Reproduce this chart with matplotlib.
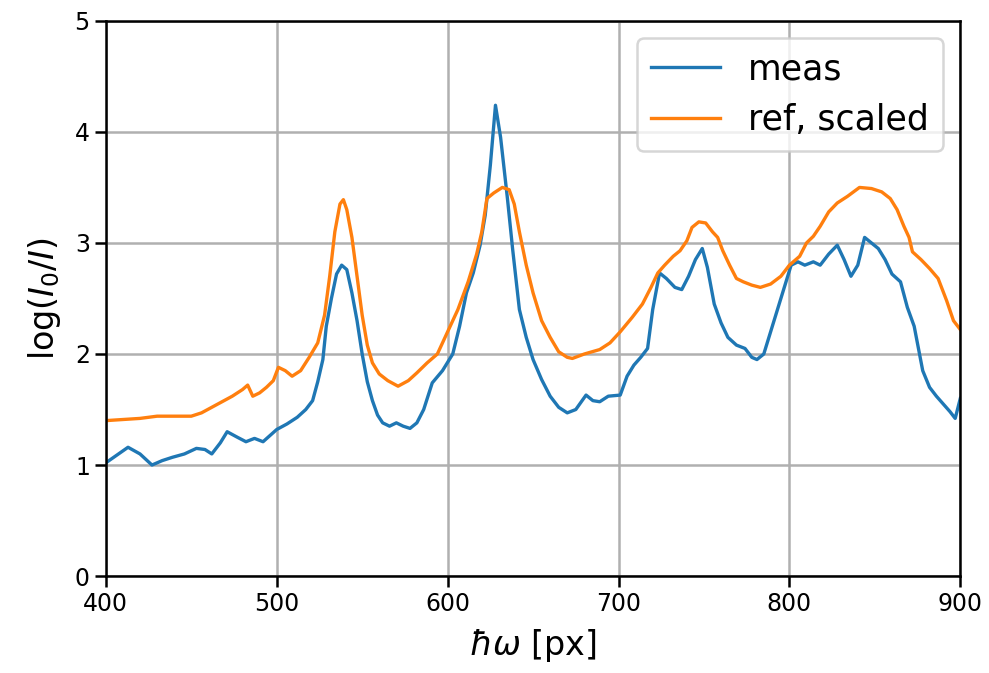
import matplotlib
matplotlib.use("Agg")
import matplotlib.pyplot as plt

meas_x = [400, 413, 420, 427, 433, 439, 446, 453, 458, 462, 467, 471, 477, 482, 487, 492, 500, 506,
          512, 517, 521, 524, 527, 529, 532, 535, 538, 541, 544, 547, 550, 553, 556, 559, 562, 566,
          570, 574, 578, 582, 586, 591, 597, 603, 607, 611, 615, 619, 622, 625, 628, 631, 635, 638,
          642, 646, 650, 655, 660, 665, 670, 675, 681, 685, 689, 694, 701, 705, 709, 713, 717, 720,
          724, 728, 733, 737, 741, 745, 749, 752, 756, 760, 764, 769, 774, 778, 781, 785, 789, 793,
          797, 801, 805, 809, 814, 818, 823, 828, 832, 836, 840, 844, 848, 852, 856, 860, 865, 869,
          873, 878, 882, 886, 890, 894, 897, 900]
meas_y = [1.02, 1.16, 1.10, 1.00, 1.04, 1.07, 1.10, 1.15, 1.14, 1.10, 1.20, 1.30, 1.25, 1.21, 1.24, 1.21,
          1.32, 1.37, 1.43, 1.50, 1.58, 1.75, 1.95, 2.25, 2.50, 2.72, 2.80, 2.76, 2.55, 2.30, 2.00,
          1.75, 1.58, 1.45, 1.38, 1.35, 1.38, 1.35, 1.33, 1.38, 1.50, 1.74, 1.85, 2.00, 2.25, 2.55,
          2.73, 2.98, 3.25, 3.70, 4.24, 3.95, 3.40, 2.95, 2.40, 2.15, 1.95, 1.77, 1.62, 1.52, 1.47,
          1.50, 1.63, 1.58, 1.57, 1.62, 1.63, 1.80, 1.90, 1.97, 2.05, 2.40, 2.73, 2.68, 2.60, 2.58,
          2.70, 2.85, 2.95, 2.78, 2.45, 2.28, 2.15, 2.08, 2.05, 1.97, 1.95, 2.00, 2.20, 2.40, 2.60,
          2.80, 2.83, 2.80, 2.83, 2.80, 2.90, 2.98, 2.85, 2.70, 2.80, 3.05, 3.00, 2.95, 2.85, 2.72,
          2.65, 2.42, 2.25, 1.85, 1.70, 1.62, 1.55, 1.48, 1.42, 1.60]

ref_x = [400, 410, 420, 430, 440, 450, 456, 462, 468, 474, 480, 483, 486, 490, 494, 498, 501, 505,
         509, 514, 519, 524, 528, 531, 534, 537, 539, 541, 544, 547, 550, 553, 556, 560, 565, 571,
         577, 582, 588, 594, 600, 606, 612, 617, 620, 623, 627, 632, 636, 639, 642, 646, 650, 655,
         660, 665, 670, 673, 680, 689, 695, 701, 708, 714, 719, 723, 727, 732, 736, 740, 743, 747,
         751, 755, 758, 761, 765, 769, 773, 778, 783, 789, 795, 800, 806, 810, 814, 818, 823, 828,
         834, 841, 848, 854, 859, 863, 867, 870, 872, 877, 882, 887, 892, 896, 900]
ref_y = [1.40, 1.41, 1.42, 1.44, 1.44, 1.44, 1.47, 1.52, 1.57, 1.62, 1.68, 1.72, 1.62, 1.65, 1.70, 1.76,
         1.88, 1.85, 1.80, 1.85, 1.97, 2.10, 2.35, 2.70, 3.10, 3.35, 3.39, 3.30, 3.05, 2.70, 2.35,
         2.08, 1.92, 1.82, 1.76, 1.71, 1.76, 1.83, 1.92, 2.00, 2.20, 2.40, 2.65, 2.90, 3.10, 3.40,
         3.45, 3.50, 3.48, 3.35, 3.10, 2.80, 2.55, 2.30, 2.15, 2.02, 1.97, 1.96, 2.00, 2.04, 2.10,
         2.20, 2.33, 2.45, 2.60, 2.73, 2.80, 2.88, 2.93, 3.02, 3.14, 3.19, 3.18, 3.10, 3.05, 2.93,
         2.80, 2.68, 2.65, 2.62, 2.60, 2.63, 2.70, 2.80, 2.88, 3.00, 3.06, 3.15, 3.28, 3.36, 3.42,
         3.50, 3.49, 3.46, 3.40, 3.30, 3.15, 3.05, 2.92, 2.85, 2.77, 2.68, 2.48, 2.30, 2.22]

fig = plt.figure(figsize=(9.89, 6.73), dpi=100)
ax = fig.add_axes([0.107, 0.144, 0.864, 0.825])
ax.plot(meas_x, meas_y, color="#1f77b4", lw=2.4, label="meas")
ax.plot(ref_x, ref_y, color="#ff7f0e", lw=2.4, label="ref, scaled")
ax.set_xlim(400, 900)
ax.set_ylim(0, 5)
ax.set_xticks([400, 500, 600, 700, 800, 900])
ax.set_yticks([0, 1, 2, 3, 4, 5])
ax.grid(True, color="#b0b0b0", lw=1.8)
ax.tick_params(labelsize=17, width=1.8, length=8)
for s in ax.spines.values():
    s.set_linewidth(1.8)
ax.set_xlabel(r"$\hbar\omega$ [px]", fontsize=24, labelpad=8)
ax.set_ylabel(r"$\log(I_0/I)$", fontsize=24, labelpad=8)
leg = ax.legend(loc="upper right", fontsize=25, handlelength=2.0, borderpad=0.4, framealpha=0.8)
leg.get_frame().set_linewidth(1.8)
fig.savefig("out.png", dpi=100)
